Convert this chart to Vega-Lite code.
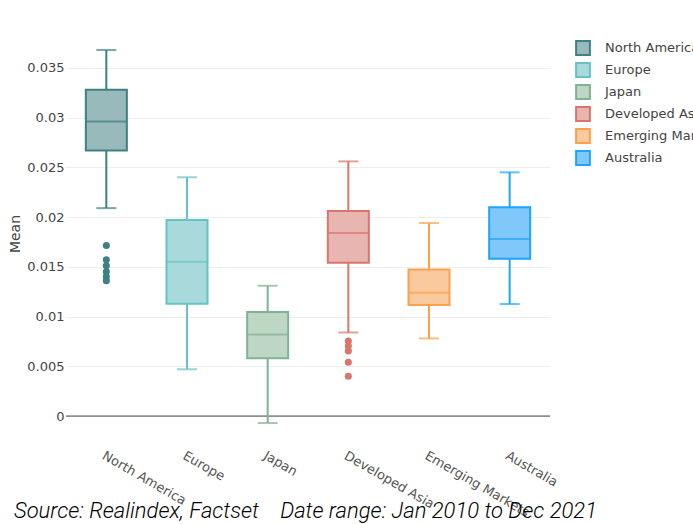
{
  "$schema": "https://vega.github.io/schema/vega-lite/v6.json",
  "width": 484,
  "height": 387,
  "autosize": {"type": "none"},
  "padding": {"left": 66, "top": 40, "right": 143, "bottom": 97},
  "background": "white",
  "config": {"view": {"stroke": null}, "font": "DejaVu Sans"},
  "title": {
    "text": "Source: Realindex, Factset\u00a0\u00a0\u00a0\u00a0Date range: Jan 2010 to Dec 2021",
    "orient": "bottom",
    "anchor": "start",
    "frame": "group",
    "font": "Roboto",
    "fontStyle": "italic",
    "fontWeight": 300,
    "fontSize": 22,
    "color": "#000000",
    "dx": -52,
    "dy": -18,
    "offset": 0
  },
  "datasets": {
    "stats": [
      {"region": "North America", "lower": 0.0209, "q1": 0.0267, "median": 0.0296, "q3": 0.0328, "upper": 0.0368},
      {"region": "Europe", "lower": 0.0047, "q1": 0.0113, "median": 0.0155, "q3": 0.0197, "upper": 0.0240},
      {"region": "Japan", "lower": -0.0007, "q1": 0.0058, "median": 0.0082, "q3": 0.01046, "upper": 0.0131},
      {"region": "Developed Asia", "lower": 0.0084, "q1": 0.0154, "median": 0.0184, "q3": 0.0206, "upper": 0.0256},
      {"region": "Emerging Markets", "lower": 0.0078, "q1": 0.01116, "median": 0.0124, "q3": 0.01474, "upper": 0.0194},
      {"region": "Australia", "lower": 0.01126, "q1": 0.0158, "median": 0.0178, "q3": 0.0210, "upper": 0.0245}
    ],
    "outliers": [
      {"region": "North America", "value": 0.01715},
      {"region": "North America", "value": 0.0157},
      {"region": "North America", "value": 0.0151},
      {"region": "North America", "value": 0.0145},
      {"region": "North America", "value": 0.0140},
      {"region": "North America", "value": 0.0136},
      {"region": "Developed Asia", "value": 0.00755},
      {"region": "Developed Asia", "value": 0.00705},
      {"region": "Developed Asia", "value": 0.00655},
      {"region": "Developed Asia", "value": 0.0054},
      {"region": "Developed Asia", "value": 0.0040}
    ],
    "zero": [{"v": 0}]
  },
  "encoding": {
    "x": {
      "field": "region",
      "type": "nominal",
      "sort": null,
      "scale": {
        "domain": ["North America", "Europe", "Japan", "Developed Asia", "Emerging Markets", "Australia"],
        "paddingInner": 0,
        "paddingOuter": 0
      },
      "axis": {
        "title": null,
        "labelAngle": 30,
        "labelAlign": "left",
        "labelBaseline": "top",
        "labelPadding": 22,
        "labelFontSize": 13,
        "labelColor": "#555555",
        "labelFont": "DejaVu Sans",
        "ticks": false,
        "domain": false,
        "grid": false
      }
    }
  },
  "layer": [
    {
      "data": {"name": "zero"},
      "mark": {"type": "rule", "color": "#444444", "strokeWidth": 1},
      "encoding": {
        "x": null,
        "y": {
          "field": "v",
          "type": "quantitative",
          "scale": {"domain": [-0.0011, 0.0378], "nice": false, "zero": false},
          "axis": {
            "title": "Mean",
            "titleFontSize": 14,
            "titleFontWeight": "normal",
            "titleColor": "#444444",
            "titleFont": "DejaVu Sans",
            "titleX": -44,
            "values": [0, 0.005, 0.01, 0.015, 0.02, 0.025, 0.03, 0.035],
            "format": ".3~f",
            "labelFontSize": 13,
            "labelColor": "#444444",
            "labelFont": "DejaVu Sans",
            "labelPadding": 2,
            "ticks": false,
            "domain": false,
            "grid": true,
            "gridColor": "#eeeeee",
            "gridWidth": 1
          }
        }
      }
    },
    {
      "data": {"name": "stats"},
      "mark": {"type": "rule", "strokeWidth": 2},
      "encoding": {
        "y": {"field": "lower", "type": "quantitative"},
        "y2": {"field": "upper"},
        "color": {
          "field": "region",
          "type": "nominal",
          "scale": {
            "domain": ["Australia", "Emerging Markets", "Developed Asia", "Japan", "Europe", "North America"],
            "range": ["#1ea5ff", "#fda14f", "#d9766c", "#83b193", "#66c2c4", "#3d8183"]
          },
          "legend": null
        }
      }
    },
    {
      "data": {"name": "stats"},
      "mark": {"type": "bar", "width": 41, "strokeWidth": 2},
      "encoding": {
        "y": {"field": "q1", "type": "quantitative"},
        "y2": {"field": "q3"},
        "fill": {
          "field": "region",
          "type": "nominal",
          "scale": {
            "domain": ["North America", "Europe", "Japan", "Developed Asia", "Emerging Markets", "Australia"],
            "range": ["#98babb", "#a9dadb", "#bed6c4", "#e9b5b0", "#fac99e", "#80c7fa"]
          },
          "legend": {
            "title": null,
            "orient": "right",
            "offset": 25,
            "padding": 0,
            "symbolType": "square",
            "symbolSize": 190,
            "symbolStrokeWidth": 2,
            "labelFontSize": 13,
            "labelColor": "#444444",
            "labelFont": "DejaVu Sans",
            "labelOffset": 14,
            "rowPadding": 0,
            "labelLimit": 200
          }
        },
        "stroke": {
          "field": "region",
          "type": "nominal",
          "scale": {
            "domain": ["North America", "Europe", "Japan", "Developed Asia", "Emerging Markets", "Australia"],
            "range": ["#3d8183", "#66c2c4", "#83b193", "#d9766c", "#fda14f", "#1ea5ff"]
          },
          "legend": {
            "title": null,
            "orient": "right",
            "offset": 25,
            "padding": 0,
            "symbolType": "square",
            "symbolSize": 190,
            "symbolStrokeWidth": 2,
            "labelFontSize": 13,
            "labelColor": "#444444",
            "labelFont": "DejaVu Sans",
            "labelOffset": 14,
            "rowPadding": 0,
            "labelLimit": 200
          }
        }
      }
    },
    {
      "data": {"name": "stats"},
      "mark": {"type": "tick", "size": 41, "thickness": 2},
      "encoding": {
        "y": {"field": "median", "type": "quantitative"},
        "color": {"field": "region", "type": "nominal", "legend": null}
      }
    },
    {
      "data": {"name": "stats"},
      "mark": {"type": "tick", "size": 20, "thickness": 2},
      "encoding": {
        "y": {"field": "lower", "type": "quantitative"},
        "color": {"field": "region", "type": "nominal", "legend": null}
      }
    },
    {
      "data": {"name": "stats"},
      "mark": {"type": "tick", "size": 20, "thickness": 2},
      "encoding": {
        "y": {"field": "upper", "type": "quantitative"},
        "color": {"field": "region", "type": "nominal", "legend": null}
      }
    },
    {
      "data": {"name": "outliers"},
      "mark": {"type": "circle", "size": 50, "opacity": 1},
      "encoding": {
        "y": {"field": "value", "type": "quantitative"},
        "color": {"field": "region", "type": "nominal", "legend": null}
      }
    }
  ]
}
